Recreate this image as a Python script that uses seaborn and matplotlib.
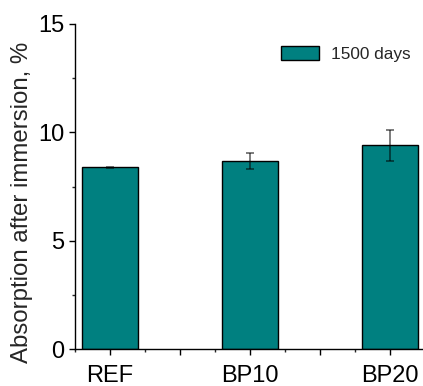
import pandas as pd
import numpy as np
import matplotlib
matplotlib.use("Agg")
import matplotlib.pyplot as plt
import seaborn as sns
from matplotlib.ticker import MultipleLocator


samples = ["REF", "BP10", "BP20"]
absorption = [8.39, 8.67, 9.39]
errors = [0.03, 0.38, 0.72]
series_name = "1500 days"

df = pd.DataFrame({"sample": samples, "absorption": absorption, "err": errors})

sns.set_style("ticks")
plt.rcParams["font.family"] = ["Liberation Sans", "DejaVu Sans"]

fig = plt.figure(figsize=(4.23, 3.86), dpi=100)
ax = fig.add_axes([0.1766, 0.095, 0.8234, 0.8436])

sns.barplot(data=df, x="sample", y="absorption", color="#008080", width=0.4,
            edgecolor="black", linewidth=1.0, saturation=1, ax=ax, label=series_name)
ax.errorbar(np.arange(len(samples)), df["absorption"], yerr=df["err"], fmt="none",
            ecolor="black", alpha=0.55, elinewidth=1.3, capsize=2.7, capthick=1.3)

ax.set_xlim(-0.25, 2.235)
ax.set_ylim(0, 15)
ax.xaxis.set_minor_locator(MultipleLocator(0.25))
ax.set_xticks([0, 0.5, 1, 1.5, 2])
ax.set_xticklabels(["REF", "", "BP10", "", "BP20"])
ax.yaxis.set_major_locator(MultipleLocator(5))
ax.yaxis.set_minor_locator(MultipleLocator(2.5))
ax.tick_params(axis="both", which="major", length=4.3, width=1, direction="out",
               labelsize=17, colors="black")
ax.tick_params(axis="x", which="major", pad=7)
ax.tick_params(axis="y", which="major", pad=3)
ax.tick_params(axis="both", which="minor", length=2.2, width=1, direction="out")
ax.set_xlabel("")
ax.set_ylabel("Absorption after immersion, %", fontsize=17.3)
ax.yaxis.set_label_coords(-0.12, 0.452)
sns.despine(ax=ax)
for s in ["left", "bottom"]:
    ax.spines[s].set_linewidth(1)
    ax.spines[s].set_color("black")

ax.legend(loc="upper right", bbox_to_anchor=(1.009, 0.979), frameon=False, fontsize=12.4,
          handlelength=2.2, handleheight=0.9, handletextpad=0.7)

plt.savefig("out.png", dpi=100)
